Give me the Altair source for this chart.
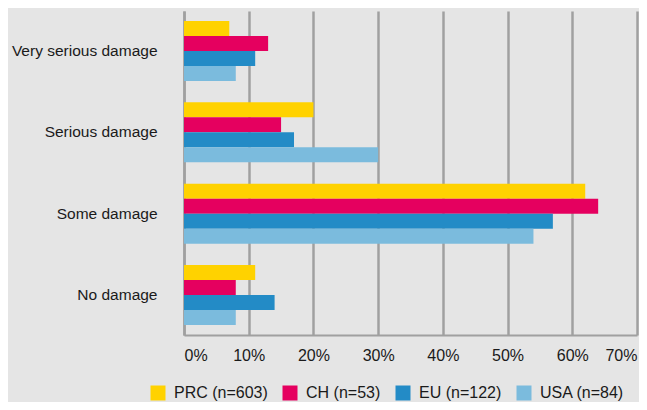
import altair as alt
import pandas as pd

categories = ["Very serious damage", "Serious damage", "Some damage", "No damage"]
series = ["PRC (n=603)", "CH (n=53)", "EU (n=122)", "USA (n=84)"]
colors = ["#FFD200", "#E5005F", "#238BC6", "#7BBBDD"]
prc = [7, 20, 62, 11]
ch = [13, 15, 64, 8]
eu = [11, 17, 57, 14]
usa = [8, 30, 54, 8]
tick_values = [0, 0.1, 0.2, 0.3, 0.4, 0.5, 0.6, 0.7]

rows = []
for s, vals in zip(series, [prc, ch, eu, usa]):
    for c, v in zip(categories, vals):
        rows.append({"category": c, "series": s, "value": v / 100})
df = pd.DataFrame(rows)

FONT = "Liberation Sans, Arial, sans-serif"
GRID = "#a0a0a0"
TEXT = "#1a1a1a"

chart = alt.Chart(df).mark_bar().encode(
    y=alt.Y(
        "category:N",
        sort=categories,
        scale=alt.Scale(paddingInner=0.262, paddingOuter=0.123),
        axis=alt.Axis(
            title=None, ticks=False, grid=False, domain=True,
            domainColor=GRID, domainWidth=2.5,
            labelPadding=27, labelFontSize=15.5, labelFont=FONT,
            labelColor=TEXT, labelLimit=300,
        ),
    ),
    yOffset=alt.YOffset("series:N", sort=series),
    x=alt.X(
        "value:Q",
        scale=alt.Scale(domain=[0, 0.7], nice=False),
        axis=alt.Axis(
            title=None, format=".0%", values=tick_values, ticks=False,
            grid=True, gridColor=GRID, gridWidth=2.5, gridOpacity=1,
            domain=True, domainColor=GRID, domainWidth=2,
            labelPadding=12, labelFontSize=16, labelFont=FONT,
            labelColor=TEXT, labelFlush=True, labelOverlap=False,
        ),
    ),
    color=alt.Color(
        "series:N",
        sort=series,
        scale=alt.Scale(domain=series, range=colors),
        legend=alt.Legend(
            title=None, orient="none", direction="horizontal",
            legendX=-34, legendY=374,
            symbolType="square", symbolSize=225, symbolStrokeWidth=0,
            symbolOpacity=1,
            labelFontSize=16, labelFont=FONT, labelColor=TEXT,
            labelOffset=8, columnPadding=14, labelLimit=300,
        ),
    ),
).properties(
    width=453,
    height=324,
    background="#e5e5e5",
    autosize=alt.AutoSizeParams(type="none"),
    padding={"left": 176, "top": 3, "right": 2, "bottom": 67},
).configure_view(stroke=None)

chart.save("out.html", embed_options={"renderer": "svg", "actions": False})
